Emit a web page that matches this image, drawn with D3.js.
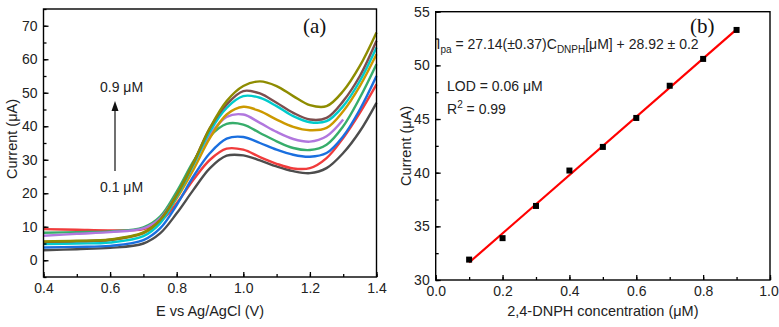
<!DOCTYPE html>
<html>
<head>
<meta charset="utf-8">
<script src="https://cdn.jsdelivr.net/npm/d3@7"></script>
<style>
  body { margin: 0; background: #fff; }
  svg { display: block; font-family: "Liberation Sans", Arial, sans-serif; }
  .axis text { font-size: 14px; fill: #222; }
  .axis path, .axis line { stroke: #000; stroke-width: 1.3px; }
  .title { font-size: 14.5px; fill: #222; }
  .note { font-size: 14px; fill: #222; }
  .tag { font-family: "Liberation Serif", "Times New Roman", serif; font-size: 21px; fill: #111; }
</style>
</head>
<body>
<div id="chart"></div>
<script>
// ---- panel (a): DPV curves, one per concentration ----
var potential = [0.4, 0.5, 0.6, 0.7, 0.75, 0.8, 0.85, 0.9, 0.95, 1.0, 1.05, 1.1, 1.15, 1.2, 1.25, 1.3, 1.35, 1.4];
var labelsA = ["0.1", "0.2", "0.3", "0.4", "0.5", "0.6", "0.7", "0.8", "0.9"];
var colorsA = ["#4d4d4d", "#f03c3c", "#1a6fdf", "#37ad6b", "#b177de", "#cc9900", "#00cbcc", "#7d4e4e", "#8e8c00"];
var cur01 = [3.0, 3.3, 3.7, 5.0, 8.0, 14.0, 21.0, 27.5, 31.2, 31.3, 29.8, 28.0, 26.6, 26.0, 27.5, 32.0, 38.5, 47.0];
var cur02 = [9.3, 9.1, 8.9, 9.3, 11.5, 17.0, 24.0, 30.0, 33.3, 33.0, 30.8, 28.8, 27.4, 27.5, 30.5, 36.5, 44.0, 52.5];
var cur03 = [3.8, 4.0, 4.3, 6.0, 9.5, 16.5, 25.0, 32.0, 36.3, 36.8, 35.0, 33.0, 31.5, 30.9, 32.0, 37.0, 45.0, 55.0];
var cur04 = [8.2, 8.4, 8.6, 9.8, 13.0, 20.5, 29.5, 37.0, 40.7, 40.5, 38.0, 35.5, 33.5, 32.9, 34.5, 40.0, 48.5, 58.5];
var cur05 = [7.3, 7.9, 8.4, 9.5, 12.5, 19.5, 28.5, 37.5, 42.8, 43.5, 41.0, 38.3, 36.2, 35.4, 37.0, 42.0];
var cur06 = [5.4, 5.6, 6.0, 8.0, 11.5, 18.5, 27.0, 36.5, 43.5, 45.8, 44.5, 42.0, 39.8, 38.8, 39.5, 44.5, 52.0, 61.5];
var cur07 = [4.8, 5.0, 5.3, 7.2, 11.0, 19.0, 28.5, 38.5, 45.5, 49.0, 48.5, 46.0, 43.0, 41.2, 41.5, 46.0, 53.5, 63.5];
var cur08 = [5.5, 5.7, 6.1, 8.2, 12.0, 19.5, 29.0, 39.5, 46.5, 50.5, 49.8, 47.0, 44.0, 42.0, 42.5, 47.5, 55.0, 65.5];
var cur09 = [5.6, 5.8, 6.2, 8.3, 12.0, 19.5, 29.0, 39.5, 47.5, 52.0, 53.4, 52.0, 49.0, 46.3, 46.0, 50.5, 58.0, 68.0];
var currentsA = [cur01, cur02, cur03, cur04, cur05, cur06, cur07, cur08, cur09];
var xTicksA = [0.4, 0.6, 0.8, 1.0, 1.2, 1.4];
var yTicksA = [0, 10, 20, 30, 40, 50, 60, 70];

// ---- panel (b): calibration ----
var conc = [0.1, 0.2, 0.3, 0.4, 0.5, 0.6, 0.7, 0.8, 0.9];
var peakCurrent = [31.9, 33.9, 36.9, 40.2, 42.4, 45.1, 48.1, 50.6, 53.3];
var fitX = [0.1, 0.9];
var fitY = [31.63, 53.35];
var xTicksB = [0.0, 0.2, 0.4, 0.6, 0.8, 1.0];
var yTicksB = [30, 35, 40, 45, 50, 55];

var width = 779, height = 327;

var svg = d3.select("#chart").append("svg")
  .attr("width", width)
  .attr("height", height);

function minorTicks(lo, hi, step) {
  var out = [];
  for (var v = lo; v <= hi + 1e-9; v += step) out.push(+v.toFixed(4));
  return out;
}

function drawFrame(g, x, y, xMajor, xMinor, yMajor, yMinor, xFmt) {
  var x0 = x.range()[0], x1 = x.range()[1], y0 = y.range()[0], y1 = y.range()[1];

  // minor ticks first (no labels)
  g.append("g").attr("class", "axis").attr("transform", `translate(0,${y0})`)
    .call(d3.axisBottom(x).tickValues(xMinor).tickSize(-3).tickFormat(""))
    .select(".domain").remove();
  g.append("g").attr("class", "axis").attr("transform", `translate(${x0},0)`)
    .call(d3.axisLeft(y).tickValues(yMinor).tickSize(-3).tickFormat(""))
    .select(".domain").remove();

  var xAx = g.append("g").attr("class", "axis").attr("transform", `translate(0,${y0})`)
    .call(d3.axisBottom(x).tickValues(xMajor).tickSize(-5).tickSizeOuter(0).tickPadding(6).tickFormat(xFmt));
  xAx.select(".domain").remove();
  g.append("g").attr("class", "axis").attr("transform", `translate(${x0},0)`)
    .call(d3.axisLeft(y).tickValues(yMajor).tickSize(-5).tickSizeOuter(0).tickPadding(6).tickFormat(d3.format("d")))
    .select(".domain").remove();

  g.append("rect")
    .attr("x", x0).attr("y", y1)
    .attr("width", x1 - x0).attr("height", y0 - y1)
    .attr("fill", "none").attr("stroke", "#000").attr("stroke-width", 1.4);
  return xAx;
}

// ================= panel (a) =================
var xA = d3.scaleLinear().domain([0.4, 1.4]).range([43.5, 376.5]);
var yA = d3.scaleLinear().domain([-5, 75]).range([277, 9]);
var gA = svg.append("g");

var lineA = d3.line()
  .x(function(d) { return xA(d[0]); })
  .y(function(d) { return yA(d[1]); })
  .curve(d3.curveCatmullRom.alpha(0.5));

gA.selectAll(".dpv")
  .data(currentsA)
  .enter()
  .append("path")
  .attr("class", "dpv")
  .attr("d", function(vals) {
    return lineA(vals.map(function(v, i) { return [potential[i], v]; }));
  })
  .attr("fill", "none")
  .attr("stroke", function(d, i) { return colorsA[i]; })
  .attr("stroke-width", 2.4);

drawFrame(gA, xA, yA, xTicksA, minorTicks(0.4, 1.4, 0.1), yTicksA, minorTicks(-5, 75, 5), d3.format(".1f"));

gA.append("text").attr("class", "title")
  .attr("x", (xA.range()[0] + xA.range()[1]) / 2).attr("y", 316)
  .attr("text-anchor", "middle")
  .text("E vs Ag/AgCl (V)");

gA.append("text").attr("class", "title")
  .attr("transform", `translate(17,${(yA.range()[0] + yA.range()[1]) / 2 - 4}) rotate(-90)`)
  .attr("text-anchor", "middle")
  .text("Current (\u03bcA)");

gA.append("text").attr("class", "tag")
  .attr("x", 303).attr("y", 33).text("(a)");

// concentration arrow
gA.append("text").attr("class", "note")
  .attr("x", 100).attr("y", 92).text("0.9 \u03bcM");
gA.append("text").attr("class", "note")
  .attr("x", 100).attr("y", 192).text("0.1 \u03bcM");
gA.append("line")
  .attr("x1", 115).attr("x2", 115).attr("y1", 171).attr("y2", 110)
  .attr("stroke", "#111").attr("stroke-width", 1.2);
gA.append("path")
  .attr("d", "M115,101 L111.5,111 L118.5,111 Z")
  .attr("fill", "#111");

// ================= panel (b) =================
var xB = d3.scaleLinear().domain([0, 1]).range([435.7, 770]);
var yB = d3.scaleLinear().domain([30, 55]).range([280, 11.7]);
var gB = svg.append("g");

var xAxB = drawFrame(gB, xB, yB, xTicksB, minorTicks(0, 1, 0.1), yTicksB, minorTicks(30, 55, 2.5), d3.format(".1f"));
// keep the last label inside the window
xAxB.selectAll(".tick text").filter(function(d) { return d === 1; }).attr("dx", -1.5);

gB.append("line")
  .attr("x1", xB(fitX[0])).attr("y1", yB(fitY[0]))
  .attr("x2", xB(fitX[1])).attr("y2", yB(fitY[1]))
  .attr("stroke", "#ff0000").attr("stroke-width", 2.2);

gB.selectAll(".pt")
  .data(conc)
  .enter()
  .append("rect")
  .attr("class", "pt")
  .attr("x", function(d) { return xB(d) - 3; })
  .attr("y", function(d, i) { return yB(peakCurrent[i]) - 3; })
  .attr("width", 6).attr("height", 6)
  .attr("fill", "#000");

gB.append("text").attr("class", "title")
  .attr("x", (xB.range()[0] + xB.range()[1]) / 2).attr("y", 316)
  .attr("text-anchor", "middle")
  .text("2,4-DNPH concentration (\u03bcM)");

gB.append("text").attr("class", "title")
  .attr("transform", `translate(411,${(yB.range()[0] + yB.range()[1]) / 2}) rotate(-90)`)
  .attr("text-anchor", "middle")
  .text("Current (\u03bcA)");

gB.append("text").attr("class", "tag")
  .attr("x", 690).attr("y", 33).text("(b)");

var eq = gB.append("text").attr("class", "note").attr("x", 436.5).attr("y", 48.5);
eq.append("tspan").text("I");
eq.append("tspan").attr("font-size", "10px").attr("dy", 4).text("pa");
eq.append("tspan").attr("dy", -4).text(" = 27.14(\u00b10.37)C");
eq.append("tspan").attr("font-size", "10px").attr("dy", 4).text("DNPH");
eq.append("tspan").attr("dy", -4).text("[\u03bcM] + 28.92 \u00b1 0.2");

gB.append("text").attr("class", "note")
  .attr("x", 447).attr("y", 90.5).text("LOD = 0.06 \u03bcM");

var r2 = gB.append("text").attr("class", "note").attr("x", 447).attr("y", 114);
r2.append("tspan").text("R");
r2.append("tspan").attr("font-size", "10px").attr("dy", -6).text("2");
r2.append("tspan").attr("dy", 6).text(" = 0.99");
</script>
</body>
</html>
